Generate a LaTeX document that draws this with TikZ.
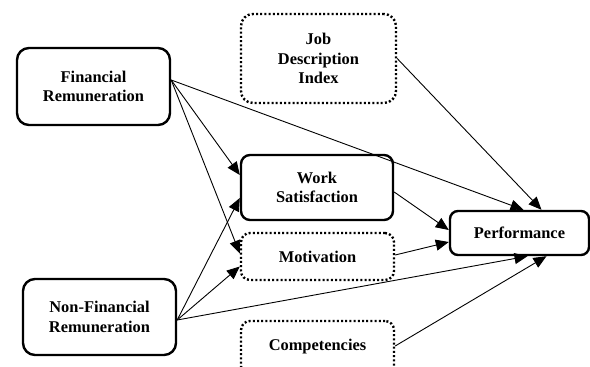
\documentclass[tikz,border=0pt]{standalone}
\usepackage{fontspec}
\setmainfont{Liberation Serif}
\usetikzlibrary{arrows.meta,calc}
\begin{document}
\begin{tikzpicture}[x=1pt,y=-1pt,
  box/.style={draw,line width=2.4pt,rounded corners=#1,align=center,inner sep=0pt,
    font=\bfseries\fontsize{16.4}{19.5}\selectfont},
  box/.default=12pt,
  dbox/.style={box=#1,dash pattern=on 2pt off 2.2pt},
  dbox/.default=12pt,
  conn/.style={line width=0.9pt,-{Triangle[length=13pt,width=11pt]}}]
\clip (0,0) rectangle (590,367);
\fill[white] (0,0) rectangle (590,367);
\node[box,minimum width=153pt,minimum height=77pt] (fr) at (93.5,86.5) {Financial\\Remuneration};
\node[dbox,minimum width=155pt,minimum height=89pt] (jdi) at (318.5,58.5) {Job\\Description\\Index};
\node[box=9pt,minimum width=152pt,minimum height=65pt] (ws) at (317,187.5) {Work\\Satisfaction};
\node[dbox=9pt,minimum width=153pt,minimum height=47pt] (mot) at (317.5,256.5) {Motivation};
\node[dbox=9pt,minimum width=153pt,minimum height=54pt] (comp) at (317.5,348) {\raisebox{6pt}{Competencies}};
\node[box=8pt,minimum width=139pt,minimum height=44pt] (perf) at (519.5,233) {Performance};
\node[box,minimum width=153pt,minimum height=76pt] (nfr) at (99.5,317) {Non-Financial\\Remuneration};

\draw[conn] ($(fr.east)+(0,-6.5)$) -- ($(perf.north)+(4,0)$);
\draw[conn] ($(fr.east)+(0,-6.5)$) -- ($(ws.west)+(0,-12.5)$);
\draw[conn] ($(fr.east)+(0,-6.5)$) -- ($(mot.west)+(0,-3)$);
\draw[conn] ($(nfr.east)+(0,3)$) -- ($(ws.west)+(0,10.5)$);
\draw[conn] ($(nfr.east)+(0,3)$) -- ($(mot.west)+(0,10)$);
\draw[conn] ($(nfr.east)+(0,3)$) -- ($(perf.south)+(8,0)$);
\draw[conn] (jdi.east) -- ($(perf.north)+(22,0)$);
\draw[conn] ($(ws.east)+(0,4.5)$) -- ($(perf.west)+(0,-3)$);
\draw[conn] ($(mot.east)+(0,-1.5)$) -- ($(perf.west)+(0,9)$);
\draw[conn] ($(comp.east)+(0,-2)$) -- ($(perf.south)+(27,0)$);
\end{tikzpicture}
\end{document}
